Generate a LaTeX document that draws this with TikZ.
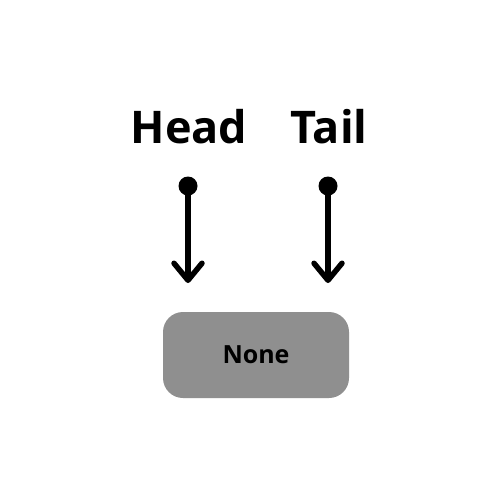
\documentclass[tikz,border=0pt]{standalone}
\usepackage{fontspec}
\setmainfont{Open Sans}
\usetikzlibrary{arrows.meta}
\begin{document}
\begin{tikzpicture}[x=1pt,y=-1pt,
  label/.style={font=\bfseries\fontsize{45}{50}\selectfont,anchor=base,inner sep=0pt},
  dot/.style={circle,fill=black,inner sep=0pt,minimum size=19pt},
  conn/.style={line width=5.5pt,-{Straight Barb[length=17pt,width=28pt,round]}},
  box/.style={rounded corners=20pt,fill=boxgray,minimum width=186pt,minimum height=86pt,font=\bfseries\fontsize{25}{28}\selectfont,inner sep=0pt}]
\definecolor{boxgray}{HTML}{8F8F8F}
\useasboundingbox (0,0) rectangle (500,500);
\fill[white] (0,0) rectangle (500,500);
\node[label] (head) at (189,143) {Head};
\node[label] (tail) at (329,143) {Tail};
\node[dot] (hd) at (188,186) {};
\node[dot] (td) at (328,186) {};
\coordinate (he) at (188,283);
\coordinate (te) at (328,283);
\draw[conn] (hd.center) -- (he);
\draw[conn] (td.center) -- (te);
\node[box] (none) at (256,355) {None};
\end{tikzpicture}
\end{document}
